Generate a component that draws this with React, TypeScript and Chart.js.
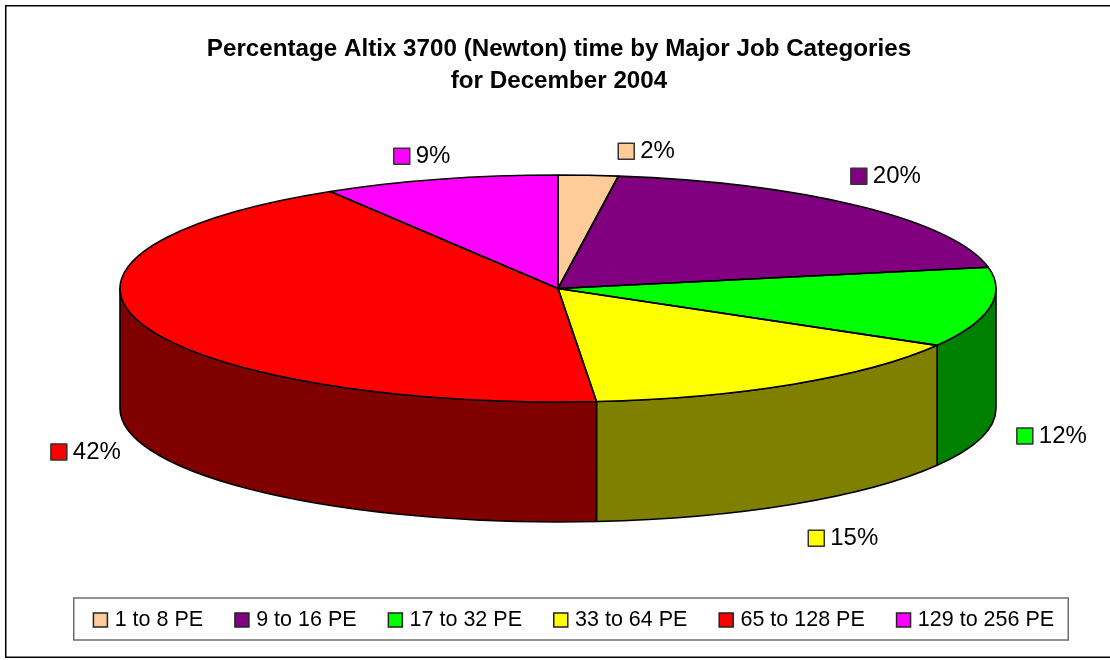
import React, { useEffect, useRef } from "react";
import { Chart, registerables } from "chart.js";

Chart.register(...registerables);

const categories = ["1 to 8 PE", "9 to 16 PE", "17 to 32 PE", "33 to 64 PE", "65 to 128 PE", "129 to 256 PE"];
const shares = [2.2, 19.8, 11.35, 15.25, 42.7, 8.7];
const percentLabels = ["2%", "20%", "12%", "15%", "42%", "9%"];
const titleLines = ["Percentage Altix 3700 (Newton) time by Major Job Categories", "for December 2004"];
const topColors = ["#FFCC99", "#800080", "#00FF00", "#FFFF00", "#FF0000", "#FF00FF"];
const wallColors = ["#806650", "#400040", "#008000", "#808000", "#800000", "#800080"];

const labelOffsets = [[38, -24], [-1, -30], [35, 128.5], [23, 154], [-83, 128], [-38, -23]];
const PIE = { cx: 558, cy: 288.5, rx: 438, ry: 113.5, depth: 120 };
const FONT = "'Liberation Sans', Arial, sans-serif";
const LINE = "#000000";

const pie3d = {
  id: "pie3d",
  beforeDraw(chart: any) {
    const { ctx, legend, titleBlock } = chart;
    ctx.save();
    ctx.fillStyle = "#ffffff";
    ctx.fillRect(0, 0, chart.width, chart.height);
    ctx.strokeStyle = "#000000";
    ctx.lineWidth = 1.5;
    ctx.strokeRect(5.75, 5.75, 1120, 651.5);
    ctx.strokeStyle = "#6e6e6e";
    ctx.strokeRect(73.75, 598, 994.5, 42);
    ctx.restore();
    const h = legend.height;
    legend.top = 574;
    legend.bottom = legend.top + h;
    legend.left = 41;
    legend.right = 1110;
    titleBlock.left = 8;
    titleBlock.right = 1110;
    titleBlock.top = 33;
  },
  beforeDatasetsDraw(chart: any) {
    const { ctx } = chart;
    const arcs = chart.getDatasetMeta(0).data;
    ctx.save();
    ctx.lineWidth = 1.6;
    ctx.strokeStyle = LINE;
    ctx.lineJoin = "round";
    arcs.forEach((arc: any, i: number) => {
      const a = Math.max(arc.startAngle, 0);
      const b = Math.min(arc.endAngle, Math.PI);
      if (b <= a) return;
      const { cx, cy, rx, ry, depth } = PIE;
      ctx.beginPath();
      ctx.ellipse(cx, cy, rx, ry, 0, a, b);
      ctx.ellipse(cx, cy + depth, rx, ry, 0, b, a, true);
      ctx.closePath();
      ctx.fillStyle = wallColors[i];
      ctx.fill();
      ctx.stroke();
    });
    ctx.restore();
    const first = arcs[0];
    const sx = PIE.rx / first.outerRadius;
    const sy = PIE.ry / first.outerRadius;
    ctx.save();
    ctx.translate(PIE.cx, PIE.cy);
    ctx.scale(sx, sy);
    ctx.translate(-first.x, -first.y);
  },
  afterDatasetsDraw(chart: any) {
    const { ctx } = chart;
    ctx.restore();
    const arcs = chart.getDatasetMeta(0).data;
    const { cx, cy, rx, ry } = PIE;
    ctx.save();
    ctx.lineWidth = 1.6;
    ctx.strokeStyle = LINE;
    ctx.lineJoin = "round";
    arcs.forEach((arc: any) => {
      ctx.beginPath();
      ctx.moveTo(cx, cy);
      ctx.ellipse(cx, cy, rx, ry, 0, arc.startAngle, arc.endAngle);
      ctx.closePath();
      ctx.stroke();
    });
    ctx.font = `24px ${FONT}`;
    ctx.textBaseline = "middle";
    ctx.textAlign = "left";
    arcs.forEach((arc: any, i: number) => {
      const mid = (arc.startAngle + arc.endAngle) / 2;
      const x = cx + rx * Math.cos(mid) + labelOffsets[i][0];
      const y = cy + ry * Math.sin(mid) + labelOffsets[i][1];
      ctx.fillStyle = topColors[i];
      ctx.strokeStyle = "#333333";
      ctx.lineWidth = 1.5;
      ctx.fillRect(x - 8, y - 8, 16, 16);
      ctx.strokeRect(x - 8, y - 8, 16, 16);
      ctx.fillStyle = "#000000";
      ctx.fillText(percentLabels[i], x + 14, y + 0.5);
    });
    ctx.restore();
  },
};

export default function App() {
  const ref = useRef<HTMLCanvasElement>(null);
  useEffect(() => {
    document.body.style.margin = "0";
    const chart = new Chart(ref.current as HTMLCanvasElement, {
      type: "pie",
      data: {
        labels: categories,
        datasets: [
          {
            data: shares,
            backgroundColor: topColors,
            borderWidth: 0,
            clip: false,
          } as any,
        ],
      },
      options: {
        responsive: false,
        animation: false,
        plugins: {
          tooltip: { enabled: false },
          title: {
            display: true,
            text: titleLines,
            color: "#000000",
            font: { family: FONT, size: 24.2, weight: "bold", lineHeight: 1.32 },
            padding: 0,
          },
          legend: {
            display: true,
            position: "bottom",
            labels: {
              usePointStyle: true,
              boxWidth: 7,
              boxHeight: 14,
              padding: 35.3,
              color: "#000000",
              font: { family: FONT, size: 21.5 },
              generateLabels: () =>
                categories.map((text, i) => ({
                  text,
                  fillStyle: topColors[i],
                  strokeStyle: "#222222",
                  lineWidth: 1.5,
                  pointStyle: "rect",
                  hidden: false,
                  index: i,
                })),
            },
          },
        },
      } as any,
      plugins: [pie3d],
    });
    return () => chart.destroy();
  }, []);
  return (
    <canvas
      ref={ref}
      width={1110}
      height={660}
      style={{ display: "block", position: "absolute", left: 0, top: 0, width: 1110, height: 660 }}
    />
  );
}
